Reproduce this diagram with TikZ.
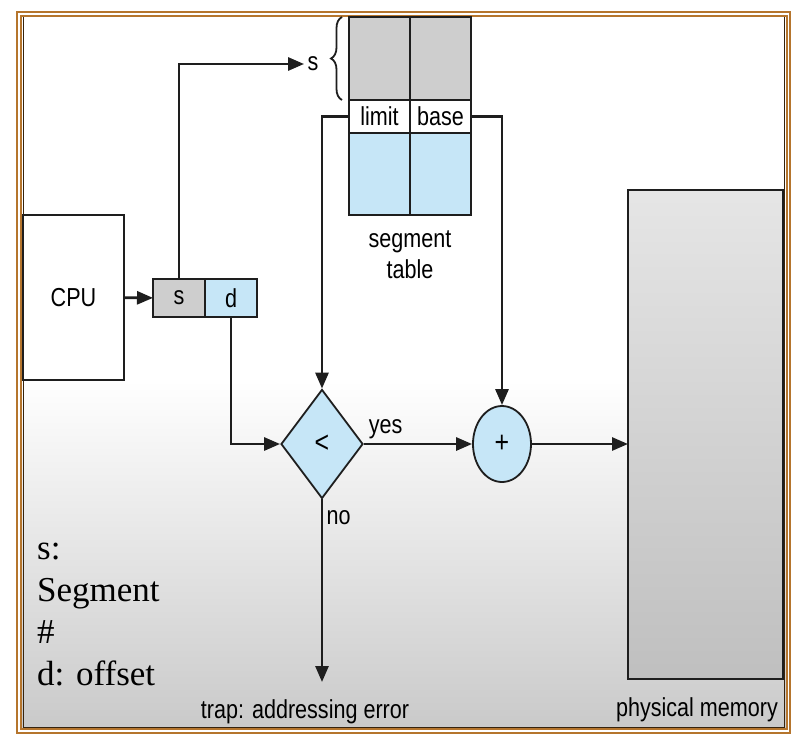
\documentclass[tikz,border=0pt]{standalone}
\usepackage{fontspec}
\setmainfont{Liberation Serif}
\setsansfont{Liberation Sans}[FakeStretch=0.83]
\usetikzlibrary{arrows.meta,shapes.geometric,positioning,decorations.pathreplacing}
\definecolor{frame}{RGB}{181,117,45}
\definecolor{cellblue}{RGB}{198,230,247}
\definecolor{cellgray}{RGB}{206,206,206}
\definecolor{ink}{RGB}{30,30,30}

\begin{document}
\begin{tikzpicture}[x=1pt,y=-1pt,>={Triangle[length=16pt,width=13pt]},
    font=\sffamily\fontsize{26}{30}\selectfont]
    \tikzstyle{box}=[rectangle, draw=ink, line width=1.8pt, inner sep=0pt, outer sep=0pt]
    \tikzstyle{cell}=[box, minimum width=61pt, minimum height=33pt]
    \tikzstyle{wire}=[draw=ink, line width=2.8pt]
    \tikzstyle{op}=[draw=ink, line width=1.8pt, fill=cellblue, inner sep=0pt, font=\sffamily\fontsize{30}{30}\selectfont]

  \useasboundingbox (0,0) rectangle (804,745);
  % background and frame
  \fill[white] (21,16) rectangle (787,380);
  \shade[top color=white, bottom color=gray!42] (21,380) rectangle (787,729);
  \draw[frame, line width=2.5pt] (17,12) rectangle (790,733);
  \draw[frame, line width=2.5pt] (21,16) rectangle (787,729);
  \draw[black!70!frame, line width=1.5pt] (23.5,17) -- (23.5,727.5) -- (784.5,727.5) -- (784.5,17);

  % cpu and logical address
  \node[box, minimum width=101pt, minimum height=165pt, fill=white] (cpu) at (73.5,297.5) {CPU};
  \node[box, minimum width=52pt, minimum height=38pt, fill=cellgray] (sreg) at (179,298) {s};
  \node[box, minimum width=52pt, minimum height=38pt, fill=cellblue, right=0pt of sreg] (dreg) {d};

  % segment table
  \node[cell, fill=white] (limit) at (379.5,116.5) {limit};
  \node[cell, fill=white, right=0pt of limit] (base) {base};
  \node[cell, fill=cellgray, minimum height=83pt, above=0pt of limit] (grayl) {};
  \node[cell, fill=cellgray, minimum height=83pt, above=0pt of base] (grayr) {};
  \node[cell, fill=cellblue, minimum height=82pt, below=0pt of limit] (bluel) {};
  \node[cell, fill=cellblue, minimum height=82pt, below=0pt of base] (bluer) {};
  \node[below=12pt of bluel.south east, align=center, font=\sffamily\fontsize{26}{31}\selectfont] (tablelab) {segment\\table};
  \node (slab) at (313,64) {s};
  \draw[ink, line width=1.8pt, decorate, decoration={brace, amplitude=11pt}] (342,100) -- (342,17);

  % compare, add, memory
  \node[op, diamond, minimum width=82pt, minimum height=109pt] (cmp) at (322,444) {<};
  \node[op, ellipse, minimum width=58pt, minimum height=76pt] (add) at (502,444) {+};
  \node[box, minimum width=155pt, minimum height=489pt, top color=gray!20, bottom color=gray!50] (mem) at (705.5,434.5) {};
  \node (memlab) at (697,710) {physical memory};
  \node (traplab) at (305,712) {trap: addressing error};
  \coordinate (trapend) at (322,682);

  \draw[wire,->] (cpu) -- (sreg);
  \draw[wire,->] (sreg.north) |- (slab.west);
  \draw[wire,->] (limit.west) -| (cmp.north);
  \draw[wire,->] (base.east) -| (add.north);
  \draw[wire,->] (dreg.south) |- (cmp.west);
  \draw[wire,->] (cmp.east) -- node[above, pos=0.2] {yes} (add.west);
  \draw[wire,->] (add.east) -- (add.east -| mem.west);
  \draw[wire,->] (cmp.south) -- node[right, pos=0.1] {no} (trapend);

  % legend
  \foreach \txt [count=\i] in {s:, Segment, \#, d: offset}
    \node[anchor=base west, inner sep=0pt, font=\rmfamily\fontsize{35}{42}\selectfont] (leg\i) at (37,517+42*\i) {\txt};
\end{tikzpicture}
\end{document}
